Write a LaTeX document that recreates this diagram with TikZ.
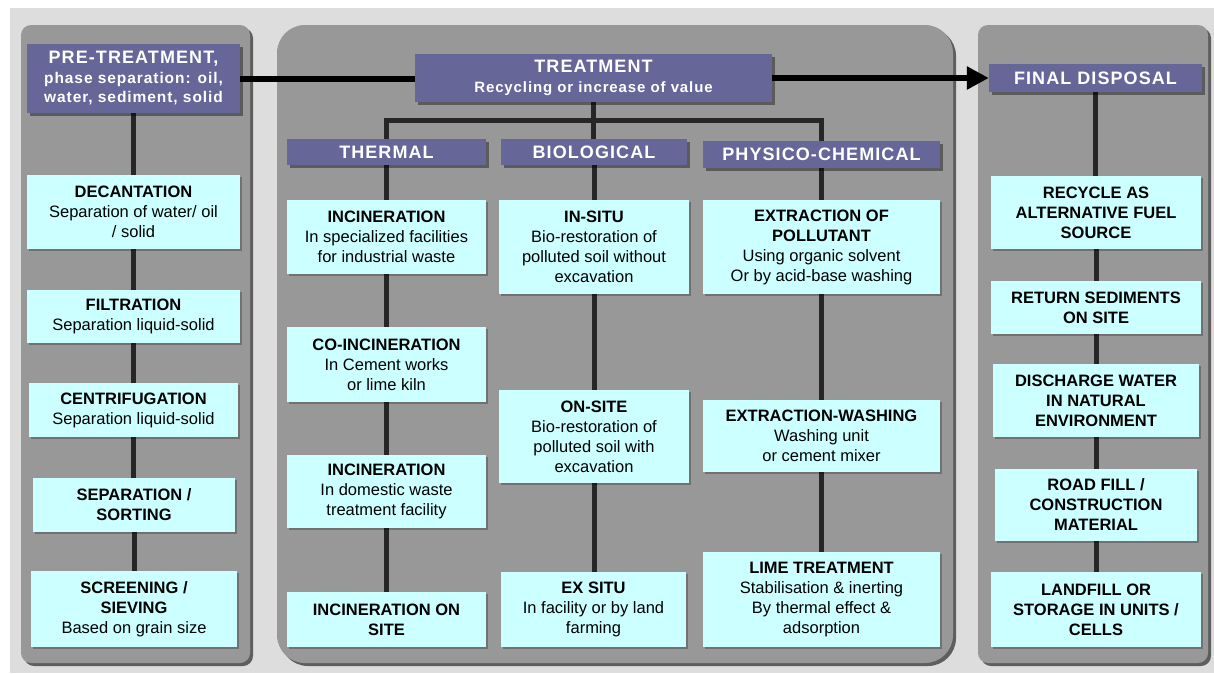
\documentclass[tikz,border=0pt]{standalone}
\usepackage{fontspec}
\setmainfont{Liberation Sans}
\newfontfamily\hdfont[LetterSpace=6]{Liberation Sans}
\usetikzlibrary{shadows,arrows.meta}
\definecolor{bgc}{HTML}{DDDDDD}
\definecolor{panelc}{HTML}{989898}
\definecolor{panelsh}{HTML}{5E5E5E}
\definecolor{hdc}{HTML}{666699}
\definecolor{cyanc}{HTML}{CCFFFF}
\definecolor{linec}{HTML}{262626}
\pgfdeclarelayer{panels}
\pgfdeclarelayer{links}
\pgfsetlayers{panels,links,main}
\tikzset{
  hdbox/.style={fill=hdc, text=white, font=\hdfont\bfseries\fontsize{18}{20}\selectfont,
    align=center, inner sep=0pt,
    drop shadow={shadow xshift=2.5pt, shadow yshift=-2.5pt, fill=black, opacity=0.4}},
  cbox/.style={fill=cyanc, text=black, font=\fontsize{16.5}{20}\selectfont,
    align=center, inner sep=0pt,
    drop shadow={shadow xshift=2pt, shadow yshift=-2pt, fill=black, opacity=0.25}},
  conn/.style={draw=linec, line width=5pt},
  flow/.style={draw=black, line width=6pt},
  panel/.style={fill=panelc},
  panelshadow/.style={fill=panelsh},
}
\begin{document}
\begin{tikzpicture}[x=1pt,y=-1pt]
\useasboundingbox (0,0) rectangle (1214,673);
\begin{pgfonlayer}{panels}
  \fill[white] (0,0) rectangle (1214,673);
  \fill[bgc] (10,8) rectangle (1214,673);
  \fill[panelshadow, rounded corners=10pt] (24,28) rectangle (253,666);
  \fill[panel, rounded corners=10pt] (21,25) rectangle (250,663);
  \fill[panelshadow, rounded corners=28pt] (280,28) rectangle (956,666);
  \fill[panel, rounded corners=28pt] (277,25) rectangle (953,663);
  \fill[panelshadow, rounded corners=10pt] (981,28) rectangle (1211,666);
  \fill[panel, rounded corners=10pt] (978,25) rectangle (1208,663);
\end{pgfonlayer}

% headers
\node[hdbox, minimum width=213pt, minimum height=69pt, font=\hdfont\bfseries\fontsize{15.5}{19.5}\selectfont] (pre) at (133.5,78.5)
  {{\fontsize{18}{20}\selectfont PRE-TREATMENT,}\\phase separation: oil,\\water, sediment, solid};
\node[hdbox, minimum width=357pt, minimum height=48pt, font=\hdfont\bfseries\fontsize{15}{20}\selectfont] (treat) at (593.5,78)
  {{\fontsize{18}{20}\selectfont TREATMENT}\\Recycling or increase of value};
\node[hdbox, minimum width=213pt, minimum height=28pt] (final) at (1095.5,78) {FINAL DISPOSAL};
\node[hdbox, minimum width=199pt, minimum height=26pt] (thermal) at (386.5,152) {THERMAL};
\node[hdbox, minimum width=186pt, minimum height=26pt] (bio) at (594,152) {BIOLOGICAL};
\node[hdbox, minimum width=237pt, minimum height=27pt] (phys) at (821.5,154.5) {PHYSICO-CHEMICAL};

% pre-treatment column
\node[cbox, minimum width=213pt, minimum height=74pt] (dec) at (133.5,212)
  {\textbf{DECANTATION}\\Separation of water/ oil\\/ solid};
\node[cbox, minimum width=213pt, minimum height=53pt] (fil) at (133.5,316.5)
  {\textbf{FILTRATION}\\Separation liquid-solid};
\node[cbox, minimum width=209pt, minimum height=54pt] (cen) at (133.5,410)
  {\textbf{CENTRIFUGATION}\\Separation liquid-solid};
\node[cbox, minimum width=202pt, minimum height=54pt] (sep) at (134,505)
  {\textbf{SEPARATION /}\\\textbf{SORTING}};
\node[cbox, minimum width=206pt, minimum height=76pt] (scr) at (134,609)
  {\textbf{SCREENING /}\\\textbf{SIEVING}\\Based on grain size};

% thermal column
\node[cbox, minimum width=199pt, minimum height=74pt] (inca) at (386.5,237)
  {\textbf{INCINERATION}\\In specialized facilities\\for industrial waste};
\node[cbox, minimum width=199pt, minimum height=75pt] (coinc) at (386.5,364.5)
  {\textbf{CO-INCINERATION}\\In Cement works\\or lime kiln};
\node[cbox, minimum width=199pt, minimum height=73pt] (incb) at (386.5,491.5)
  {\textbf{INCINERATION}\\In domestic waste\\treatment facility};
\node[cbox, minimum width=199pt, minimum height=55pt] (incc) at (386.5,619.5)
  {\textbf{INCINERATION ON}\\\textbf{SITE}};

% biological column
\node[cbox, minimum width=190pt, minimum height=94pt] (insitu) at (594,247)
  {\textbf{IN-SITU}\\Bio-restoration of\\polluted soil without\\excavation};
\node[cbox, minimum width=190pt, minimum height=93pt] (onsite) at (594,436.5)
  {\textbf{ON-SITE}\\Bio-restoration of\\polluted soil with\\excavation};
\node[cbox, minimum width=185pt, minimum height=75pt] (exsitu) at (593.5,609.5)
  {\textbf{EX SITU}\\In facility or by land\\farming};

% physico-chemical column
\node[cbox, minimum width=237pt, minimum height=94pt] (extr) at (821.5,247)
  {\textbf{EXTRACTION OF}\\\textbf{POLLUTANT}\\Using organic solvent\\Or by acid-base washing};
\node[cbox, minimum width=237pt, minimum height=72pt] (extw) at (821.5,436)
  {\textbf{EXTRACTION-WASHING}\\Washing unit\\or cement mixer};
\node[cbox, minimum width=237pt, minimum height=95pt] (lime) at (821.5,599.5)
  {\textbf{LIME TREATMENT}\\Stabilisation \& inerting\\By thermal effect \&\\adsorption};

% final disposal column
\node[cbox, minimum width=210pt, minimum height=73pt, font=\bfseries\fontsize{16.5}{20}\selectfont] (rec) at (1096,212.5)
  {RECYCLE AS\\ALTERNATIVE FUEL\\SOURCE};
\node[cbox, minimum width=210pt, minimum height=53pt, font=\bfseries\fontsize{16.5}{20}\selectfont] (ret) at (1096,307.5)
  {RETURN SEDIMENTS\\ON SITE};
\node[cbox, minimum width=206pt, minimum height=73pt, font=\bfseries\fontsize{16.5}{20}\selectfont] (dis) at (1096,400.5)
  {DISCHARGE WATER\\IN NATURAL\\ENVIRONMENT};
\node[cbox, minimum width=202pt, minimum height=72pt, font=\bfseries\fontsize{16.5}{20}\selectfont] (road) at (1096,505)
  {ROAD FILL /\\CONSTRUCTION\\MATERIAL};
\node[cbox, minimum width=210pt, minimum height=75pt, font=\bfseries\fontsize{16.5}{20}\selectfont] (land) at (1096,609.5)
  {LANDFILL OR\\STORAGE IN UNITS /\\CELLS};

\begin{pgfonlayer}{links}
  \draw[flow] (pre.east) -- (pre.east -| treat.west);
  \draw[flow, -{Triangle[length=22pt,width=22pt]}] (treat.east) -- (final.west);
  \draw[conn] (treat.south) -- (treat.south |- bio.north);
  \coordinate (br) at (594,120);
  \draw[conn] (thermal.north) |- (br) -| (phys.north);
  % columns
  \foreach \a/\b in {pre/dec,dec/fil,fil/cen,cen/sep,sep/scr,
                     thermal/inca,inca/coinc,coinc/incb,incb/incc,
                     bio/insitu,insitu/onsite,onsite/exsitu,
                     phys/extr,extr/extw,extw/lime,
                     final/rec,rec/ret,ret/dis,dis/road,road/land}
    \draw[conn] (\a.south) -- (\a.south |- \b.north);
\end{pgfonlayer}
\end{tikzpicture}
\end{document}
